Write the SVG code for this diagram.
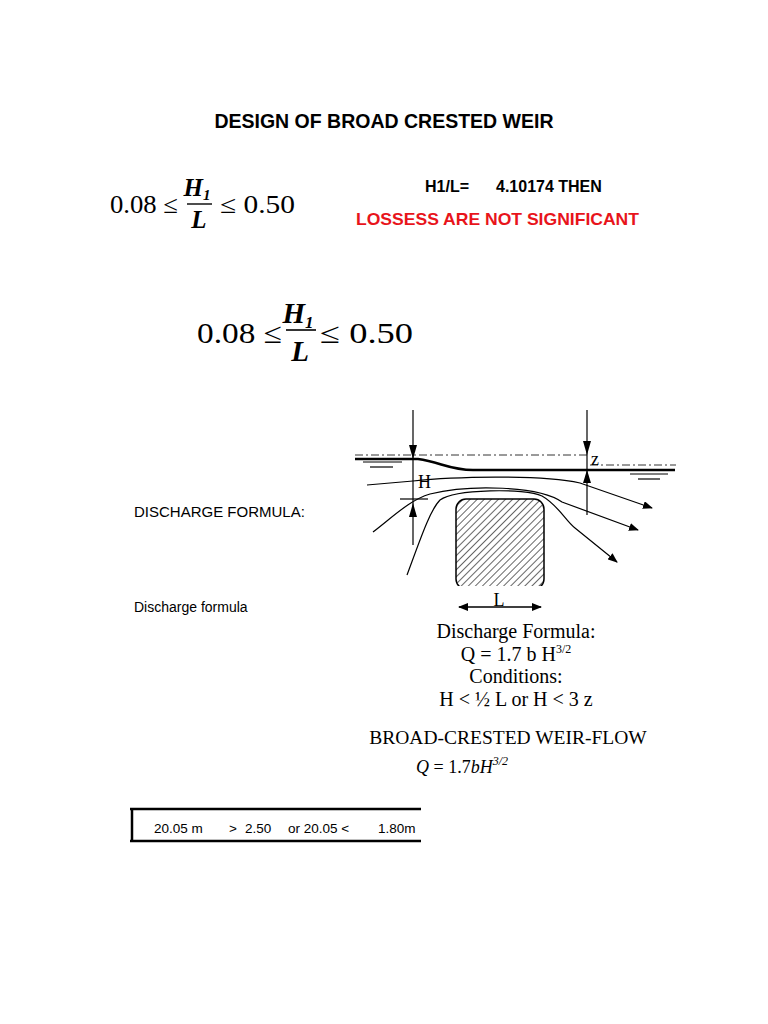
<svg xmlns="http://www.w3.org/2000/svg" width="768" height="1024" viewBox="0 0 768 1024">
<style>
.s{font-family:"Liberation Sans",Arial,sans-serif}
.m{font-family:"Liberation Serif","Times New Roman",serif}
.ln{fill:none;stroke:#000;stroke-width:1.2}
</style>
<defs>
<pattern id="h" width="5" height="5" patternUnits="userSpaceOnUse" patternTransform="rotate(45)"><line x1="0" y1="0" x2="0" y2="5" stroke="#000" stroke-width="1.2"/></pattern>
<marker id="a" markerWidth="10" markerHeight="8" refX="9" refY="4" orient="auto" markerUnits="userSpaceOnUse"><path d="M0,0 L10,4 L0,8 Z"/></marker>
</defs>
<rect width="768" height="1024" fill="#fff"/>
<g id="title"><text class="s" x="384" y="128" font-size="19.5" font-weight="bold" text-anchor="middle">DESIGN OF BROAD CRESTED WEIR</text></g>
<g id="eq1" class="m" font-size="25">
<text x="110" y="213" textLength="68" lengthAdjust="spacingAndGlyphs">0.08 ≤</text>
<text x="197" y="196" text-anchor="middle" font-style="italic" font-weight="bold">H<tspan font-size="15" dy="4">1</tspan></text>
<line x1="187" y1="204" x2="212" y2="204" stroke="#000" stroke-width="1.4"/>
<text x="199" y="228" text-anchor="middle" font-style="italic" font-weight="bold">L</text>
<text x="220" y="213" textLength="75" lengthAdjust="spacingAndGlyphs">≤ 0.50</text>
</g>
<g id="result" class="s" font-weight="bold">
<text x="425" y="192" font-size="16">H1/L=</text>
<text x="496" y="192" font-size="16">4.10174 THEN</text>
<text x="356" y="225" font-size="17" fill="#e8141b" textLength="283" lengthAdjust="spacingAndGlyphs">LOSSESS ARE NOT SIGNIFICANT</text>
</g>
<g id="eq2" class="m" font-size="29">
<text x="197" y="343" textLength="85" lengthAdjust="spacingAndGlyphs">0.08 ≤</text>
<text x="298" y="323" text-anchor="middle" font-style="italic" font-weight="bold">H<tspan font-size="17" dy="5">1</tspan></text>
<line x1="286" y1="330" x2="316" y2="330" stroke="#000" stroke-width="1.6"/>
<text x="300" y="361" text-anchor="middle" font-style="italic" font-weight="bold">L</text>
<text x="320" y="343" textLength="93" lengthAdjust="spacingAndGlyphs">≤ 0.50</text>
</g>
<g id="labels" class="s">
<text x="134" y="517" font-size="15">DISCHARGE FORMULA:</text>
<text x="134" y="612" font-size="14">Discharge formula</text>
</g>
<g id="weir">
<rect x="456" y="499" width="88" height="90" rx="10" fill="url(#h)" stroke="#000" stroke-width="1.5"/>
<rect x="454" y="586" width="92" height="4" fill="#fff"/>
<line x1="355" y1="455" x2="590" y2="455" stroke="#000" stroke-width="0.8" stroke-dasharray="8,3,2,3"/>
<line x1="590" y1="465" x2="676" y2="465" stroke="#000" stroke-width="0.8" stroke-dasharray="8,3,2,3"/>
<path d="M355,459 L418,459 C440,462 450,470 473,470 L675,470" fill="none" stroke="#000" stroke-width="2.5"/>
<g stroke="#000" stroke-width="1.2">
<line x1="363" y1="462" x2="402" y2="462"/><line x1="370" y1="467" x2="393" y2="467"/>
<line x1="630" y1="474" x2="668" y2="474"/><line x1="638" y1="479" x2="660" y2="479"/>
<line x1="400" y1="499" x2="428" y2="499"/>
</g>
<line x1="413" y1="410" x2="413" y2="545" class="ln"/>
<line x1="587" y1="410" x2="587" y2="515" class="ln"/>
<path d="M409,445 L417,445 L413,459 Z"/>
<path d="M409,517 L417,517 L413,503 Z"/>
<path d="M583,441 L591,441 L587,455 Z"/>
<path d="M583,483 L591,483 L587,470 Z"/>
<text class="m" x="418" y="488" font-size="18">H</text>
<text class="m" x="591" y="465" font-size="18">z</text>
<path d="M367,485 L413,481 C450,477 540,474 580,483 L652,508" class="ln" marker-end="url(#a)"/>
<path d="M373,532 C395,515 410,500 430,494 C470,484 540,486 562,502 L638,530" class="ln" marker-end="url(#a)"/>
<path d="M407,575 C420,540 430,510 440,500 C455,489 525,488 542,496 C558,505 565,520 575,528 L617,562" class="ln" marker-end="url(#a)"/>
<line x1="459" y1="607" x2="541" y2="607" class="ln" marker-end="url(#a)"/>
<line x1="541" y1="607" x2="459" y2="607" class="ln" marker-end="url(#a)"/>
<text class="m" x="499" y="606" font-size="18" text-anchor="middle">L</text>
</g>
<g id="caption" class="m" text-anchor="middle" font-size="20">
<text x="516" y="638">Discharge Formula:</text>
<text x="516" y="661">Q = 1.7 b H<tspan font-size="12" dy="-8">3/2</tspan></text>
<text x="516" y="683">Conditions:</text>
<text x="516" y="706">H &lt; ½ L or H &lt; 3 z</text>
<text x="508" y="744" font-size="19.5">BROAD-CRESTED WEIR-FLOW</text>
</g>
<g id="eq3" class="m" font-size="18" font-style="italic"><text x="416" y="773">Q <tspan font-style="normal">= 1.7</tspan>bH<tspan font-size="12" dy="-8">3/2</tspan></text></g>
<g id="table">
<line x1="130" y1="809" x2="421" y2="809" stroke="#000" stroke-width="2.5"/>
<line x1="130" y1="841" x2="421" y2="841" stroke="#000" stroke-width="2.5"/>
<line x1="132" y1="808" x2="132" y2="842" stroke="#000" stroke-width="2.5"/>
<g class="s" font-size="13.5">
<text x="154" y="833">20.05 m</text><text x="229" y="833">&gt;</text><text x="245" y="833">2.50</text>
<text x="288" y="833">or 20.05 &lt;</text><text x="378" y="833">1.80m</text>
</g>
</g>
</svg>
